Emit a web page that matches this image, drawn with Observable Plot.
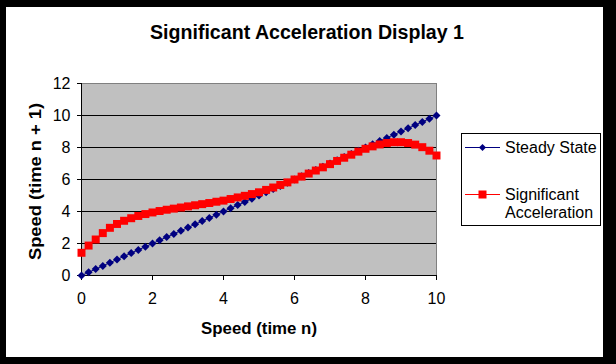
<!DOCTYPE html>
<html><head><meta charset="utf-8">
<script src="https://cdn.jsdelivr.net/npm/d3@7"></script>
<script src="https://cdn.jsdelivr.net/npm/@observablehq/plot@0.6"></script>
<style>
html,body{margin:0;padding:0;background:#fff;}
#wrap{position:relative;width:616px;height:364px;background:#000;overflow:hidden;font-family:"Liberation Sans",Arial,sans-serif;}
#inner{position:absolute;left:6px;top:7px;width:597px;height:350px;background:#fff;}
#chart{position:absolute;left:0;top:0;}
#over{position:absolute;left:0;top:0;}
</style></head><body>
<div id="wrap"><div id="inner"></div><div id="chart"></div>
<svg id="over" width="616" height="364" font-family="Liberation Sans, Arial, sans-serif">
  <text id="title" x="307" y="39" text-anchor="middle" font-weight="bold" font-size="19.5" fill="#000"></text>
  <text id="xlabel" x="259" y="334" text-anchor="middle" font-weight="bold" font-size="17" fill="#000"></text>
  <text id="ylabel" transform="translate(41,181.5) rotate(-90)" text-anchor="middle" font-weight="bold" font-size="17" fill="#000"></text>
  <g id="legend"></g>
</svg>
</div>
<script>
const titleText = "Significant Acceleration Display 1";
const xLabel = "Speed (time n)";
const yLabel = "Speed (time n + 1)";
const seriesNames = ["Steady State", "Significant Acceleration"];
const seriesColors = ["#000080", "#ff0000"];
const xTicks = [0, 2, 4, 6, 8, 10];
const yTicks = [0, 2, 4, 6, 8, 10, 12];
const gridValues = [2, 4, 6, 8, 10];

const speedN = [0,0.2,0.4,0.6,0.8,1,1.2,1.4,1.6,1.8,2,2.2,2.4,2.6,2.8,3,3.2,3.4,3.6,3.8,4,4.2,4.4,4.6,4.8,5,5.2,5.4,5.6,5.8,6,6.2,6.4,6.6,6.8,7,7.2,7.4,7.6,7.8,8,8.2,8.4,8.6,8.8,9,9.2,9.4,9.6,9.8,10];
const steadyState = [0,0.2,0.4,0.6,0.8,1,1.2,1.4,1.6,1.8,2,2.2,2.4,2.6,2.8,3,3.2,3.4,3.6,3.8,4,4.2,4.4,4.6,4.8,5,5.2,5.4,5.6,5.8,6,6.2,6.4,6.6,6.8,7,7.2,7.4,7.6,7.8,8,8.2,8.4,8.6,8.8,9,9.2,9.4,9.6,9.8,10];
const significantAccel = [1.42,1.87,2.25,2.65,2.98,3.22,3.42,3.58,3.72,3.84,3.94,4.03,4.11,4.18,4.25,4.32,4.39,4.46,4.53,4.61,4.68,4.78,4.88,4.98,5.09,5.2,5.35,5.5,5.66,5.82,6.0,6.18,6.37,6.56,6.76,6.96,7.16,7.36,7.55,7.74,7.92,8.07,8.19,8.28,8.33,8.33,8.28,8.18,8.02,7.8,7.5];

const steady = speedN.map((x, i) => ({x, y: steadyState[i]}));
const accel = speedN.map((x, i) => ({x, y: significantAccel[i]}));

const chart = Plot.plot({
  width: 616, height: 364,
  marginLeft: 81, marginRight: 180, marginTop: 83, marginBottom: 89,
  style: {background: "transparent", fontFamily: "Liberation Sans, Arial, sans-serif", fontSize: "16px", color: "#000", overflow: "visible"},
  x: {domain: [0, 10], ticks: xTicks, label: null},
  y: {domain: [0, 12], ticks: yTicks, label: null},
  marks: [
    Plot.frame({fill: "#c0c0c0", stroke: "#808080"}),
    Plot.ruleY(gridValues, {stroke: "#000"}),
    Plot.ruleX([0], {stroke: "#000"}),
    Plot.ruleY([0], {stroke: "#000"}),
    Plot.axisY({ticks: yTicks, tickSize: 4, tickPadding: 7, fontSize: 16, label: null, stroke: "#000"}),
    Plot.axisX({ticks: xTicks, tickSize: 5, tickPadding: 12, fontSize: 16, label: null, stroke: "#000"}),
    Plot.line(steady, {x: "x", y: "y", stroke: seriesColors[0], strokeWidth: 1}),
    Plot.dot(steady, {x: "x", y: "y", symbol: "square", r: 3.2, rotate: 45, fill: seriesColors[0], stroke: "none"}),
    Plot.line(accel, {x: "x", y: "y", stroke: seriesColors[1], strokeWidth: 1}),
    Plot.dot(accel, {x: "x", y: "y", symbol: "square", r: 4.5, fill: seriesColors[1], stroke: "none"})
  ]
});
document.getElementById("chart").appendChild(chart);

const t = document.getElementById("title");
t.textContent = titleText; t.setAttribute("textLength", 314); t.setAttribute("lengthAdjust", "spacingAndGlyphs");
const xl = document.getElementById("xlabel");
xl.textContent = xLabel; xl.setAttribute("textLength", 116); xl.setAttribute("lengthAdjust", "spacingAndGlyphs");
const yl = document.getElementById("ylabel");
yl.textContent = yLabel; yl.setAttribute("textLength", 157); yl.setAttribute("lengthAdjust", "spacingAndGlyphs");

// legend
const ns = "http://www.w3.org/2000/svg";
const lg = document.getElementById("legend");
function el(name, attrs, text) {
  const e = document.createElementNS(ns, name);
  for (const k in attrs) e.setAttribute(k, attrs[k]);
  if (text) e.textContent = text;
  lg.appendChild(e);
  return e;
}
el("rect", {x: 461.5, y: 133.5, width: 139, height: 92, fill: "#fff", stroke: "#000", "stroke-width": 1});
el("line", {x1: 465, x2: 500, y1: 147.5, y2: 147.5, stroke: seriesColors[0]});
el("rect", {x: 480, y: 145, width: 5, height: 5, fill: seriesColors[0], transform: "rotate(45 482.5 147.5)"});
el("text", {x: 505, y: 153, "font-size": 16, fill: "#000"}, "Steady State");
el("line", {x1: 465, x2: 500, y1: 194.5, y2: 194.5, stroke: seriesColors[1]});
el("rect", {x: 478.5, y: 190.5, width: 8, height: 8, fill: seriesColors[1]});
el("text", {x: 505, y: 200, "font-size": 16, fill: "#000"}, "Significant");
el("text", {x: 505, y: 218, "font-size": 16, fill: "#000"}, "Acceleration");
</script>
</body></html>
